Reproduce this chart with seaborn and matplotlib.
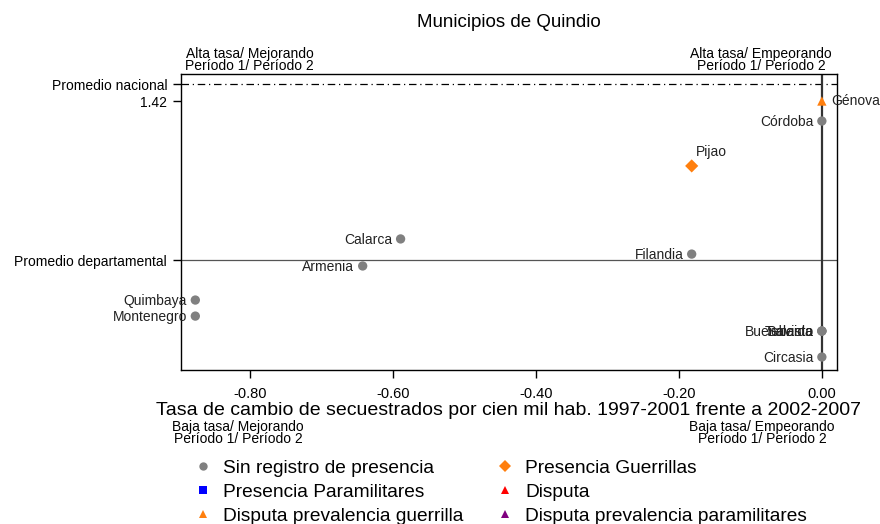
import pandas as pd
import seaborn as sb
import numpy as np
import matplotlib.pyplot as plt
from matplotlib.lines import Line2D

# municipios
municipios = ["Génova", "Córdoba", "Pijao", "Calarca", "Filandia", "Armenia",
              "Quimbaya", "Montenegro", "Buenavista", "Salento", "Tebaida", "Circasia"]
cambio = [0.0, 0.0, -0.182, -0.589, -0.182, -0.642,
          -0.876, -0.876, 0.0, 0.0, 0.0, 0.0]
tasa = [1.42, 1.309, 1.060, 0.655, 0.571, 0.505,
        0.316, 0.227, 0.144, 0.144, 0.144, 0.0]
grupo = ["Disputa prevalencia guerrilla", "Sin registro de presencia", "Presencia Guerrillas",
         "Sin registro de presencia", "Sin registro de presencia", "Sin registro de presencia",
         "Sin registro de presencia", "Sin registro de presencia", "Sin registro de presencia",
         "Sin registro de presencia", "Sin registro de presencia", "Sin registro de presencia"]
lado = ["r", "l", "r", "l", "l", "l", "l", "l", "l", "l", "l", "l"]

promedio_nacional = 1.514
promedio_departamental = 0.538

categorias = ["Sin registro de presencia", "Presencia Guerrillas",
              "Presencia Paramilitares", "Disputa",
              "Disputa prevalencia guerrilla", "Disputa prevalencia paramilitares"]
colores = ["#808080", "#ff7f0e", "#0000ff", "#ff0000", "#ff7f0e", "#800080"]
marcas = ["o", "D", "s", "^", "^", "^"]

oData = pd.DataFrame({"municipio": municipios, "cambio": cambio,
                      "tasa": tasa, "grupo": grupo})

sb.set_style("white")
plt.rcParams['font.family'] = ['Liberation Sans', 'DejaVu Sans']
plt.rcParams['text.color'] = 'black'
plt.rcParams['axes.labelcolor'] = 'black'
plt.rcParams['xtick.color'] = 'black'
plt.rcParams['ytick.color'] = 'black'

fig = plt.figure(figsize=(8.8, 5.24), dpi=100)
ax = fig.add_axes([0.2057, 0.2939, 0.7453, 0.5649])

# reference lines
ax.axhline(promedio_nacional, color="black", lw=0.9, ls=(0, (6, 3, 1, 3)))
ax.axhline(promedio_departamental, color="#555555", lw=0.9)
ax.axvline(0, color="#333333", lw=1.6)

sb.scatterplot(data=oData, x="cambio", y="tasa", hue="grupo", style="grupo",
               hue_order=categorias, style_order=categorias,
               palette=dict(zip(categorias, colores)),
               markers=dict(zip(categorias, marcas)),
               s=45, edgecolor="none", legend=False, ax=ax, zorder=3)

for m, x, y, l in zip(municipios, cambio, tasa, lado):
    if m == "Pijao":
        ax.annotate(m, (x, y), xytext=(3, 5), textcoords="offset points",
                    ha="left", va="bottom", fontsize=10, color="#222222")
    elif l == "r":
        ax.annotate(m, (x, y), xytext=(7, 0), textcoords="offset points",
                    ha="left", va="center", fontsize=10, color="#222222")
    else:
        ax.annotate(m, (x, y), xytext=(-6, -1), textcoords="offset points",
                    ha="right", va="center", fontsize=10, color="#222222")

ax.set_xlim(-0.896, 0.021)
ax.set_ylim(-0.072, 1.57)
ax.set_xticks([-0.8, -0.6, -0.4, -0.2, 0.0])
ax.set_xticklabels(["-0.80", "-0.60", "-0.40", "-0.20", "0.00"], fontsize=10.5)
ax.set_yticks([promedio_nacional, 1.42, promedio_departamental])
ax.set_yticklabels(["Promedio nacional", "1.42", "Promedio departamental"], fontsize=10)
ax.tick_params(axis="both", direction="out", length=6, width=1, color="black",
               bottom=True, left=True, pad=4)
ax.tick_params(axis="x", pad=6)
for s in ax.spines.values():
    s.set_color("black")
    s.set_linewidth(1)

ax.set_xlabel("Tasa de cambio de secuestrados por cien mil hab. 1997-2001 frente a 2002-2007",
              fontsize=14, labelpad=1)
ax.set_ylabel("")
ax.set_title("Municipios de Quindio", fontsize=13.5, pad=34)

# quadrant captions
ax.text(-0.80, 1.003, "Alta tasa/ Mejorando\nPeríodo 1/ Período 2", transform=ax.get_xaxis_transform(),
        ha="center", va="bottom", fontsize=10, linespacing=0.85)
ax.text(-0.085, 1.003, "Alta tasa/ Empeorando\nPeríodo 1/ Período 2", transform=ax.get_xaxis_transform(),
        ha="center", va="bottom", fontsize=10, linespacing=0.85)
fig.text(238 / 880, 1 - 420 / 524, "Baja tasa/ Mejorando\nPeríodo 1/ Período 2",
         ha="center", va="top", fontsize=10, linespacing=0.85)
fig.text(762 / 880, 1 - 420 / 524, "Baja tasa/ Empeorando\nPeríodo 1/ Período 2",
         ha="center", va="top", fontsize=10, linespacing=0.85)

# legend with all categories, row-wise order as in the original
orden = [0, 2, 4, 1, 3, 5]
handles = [Line2D([], [], ls="", marker=marcas[i], color=colores[i], markersize=6,
                  markeredgewidth=0) for i in orden]
etiquetas = [categorias[i] for i in orden]
fig.legend(handles, etiquetas, loc="upper left", bbox_to_anchor=(0.2085, 1 - 450 / 524),
           ncol=2, frameon=False, fontsize=13.8, handletextpad=0.55, borderpad=0,
           columnspacing=1.7, labelspacing=0.34, handlelength=1.0)

fig.savefig("out.png", dpi=100)
